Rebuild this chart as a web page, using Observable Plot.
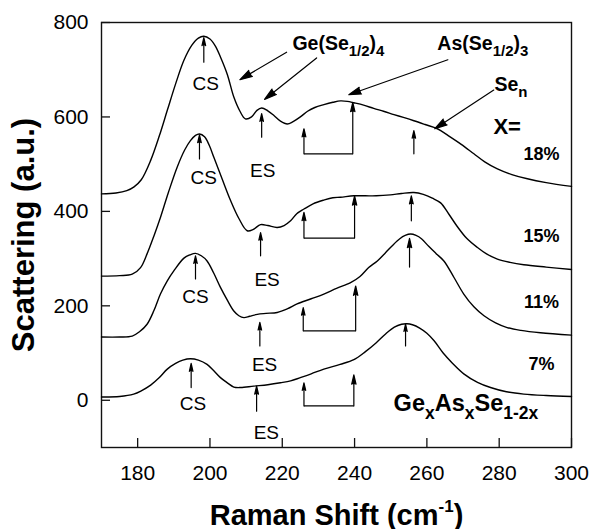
<!DOCTYPE html>
<html><head><meta charset="utf-8">
<script src="https://cdn.jsdelivr.net/npm/d3@7"></script>
<script src="https://cdn.jsdelivr.net/npm/@observablehq/plot@0.6"></script>
<style>body{margin:0;background:#fff}</style>
</head><body><div id="chart"></div>
<script>
// ---- axes ----
const xTicks = [180, 200, 220, 240, 260, 280, 300];
const yTicks = [0, 200, 400, 600, 800];
const xLabel = "Raman Shift (cm^{-1})";
const yLabel = "Scattering (a.u.)";

// ---- spectra (Raman shift, scattering) ----
const shift18 = [170,174,177,179,181,183.6,186,188.2,190.5,192.8,195,196.8,198.3,200,201.5,202.9,204.8,206.6,208.3,209.8,211.5,213,214.3,216,217.7,219.5,221.4,223,225,227,229,231.5,234,236.1,238,239.8,242.5,245.3,248,250.9,253.5,256.4,259.5,262.9,266,269.5,273,276,279.5,283.5,287.8,293,300];
const scat18  = [437,439,444,452,467,508,560,614,670,720,752,767,771,765,750,727,690,642,612,596,600,614,619,613,603,591,585,590,600,612,620,626,631,634,633,630,625,618,612,605,599,592,584,575,560,542,522,505,490,478,469,461,453];

const shift15 = [170,175,178.5,180.8,182.6,184.5,186.3,188.5,190.9,193,194.6,196,197.1,198.5,199.8,201.1,203.4,205.7,208,210.3,212,214,216,218.6,220.5,222.3,224,226,228.5,231.5,234,236.1,239.8,243,246,249.9,253,256.4,259,261.5,263.8,266,268.4,271,273.9,276.5,279.5,283,286.8,293,300];
const scat15  = [263,264,267,281,310,348,387,440,493,530,550,561,564,558,540,514,468,423,385,359,362,372,370,366,370,380,395,405,416,424,429,430,433,433,433,435,438,440,436,428,418,395,368,343,324,310,299,292,287,282,277];

const shift11 = [170,175,178.5,180.5,182.6,184.5,186.3,188.2,190,192.8,194.5,196,197.6,199.2,201,202.9,204.8,206.6,208,209.4,211,213.1,215.5,218.6,221.5,224.1,228,231.5,235,238.9,241.5,243.9,246.3,248.5,250.5,252.5,254,255.5,257,258.5,260.5,262.5,264.7,267.5,270.2,273,275.8,279,282.2,286,291.4,300];
const scat11  = [134,134,136,145,161,190,225,253,274,301,308,311,306,295,270,239,212,189,179,175,178,182,184,186,194,204,215,225,237,249,262,281,295,312,328,342,349,352,349,342,326,311,295,260,225,198,179,164,154,148,143,138];

const shift7 = [170,175,178.9,181,183.6,186,188.2,190.5,192.5,194.6,196.8,199.2,201,202.9,204.8,206.6,208.5,212.1,216,219.5,222.3,225,228,231.5,236,239.8,243,246,248.5,251,253,254.5,256,258,260,262,264.5,267,270.2,274,277.6,282,286.8,293,300];
const scat7  = [7,8,13,20,32,48,66,78,85,88,85,76,63,48,37,28,27,30,33,37,41,48,56,66,76,86,103,122,140,155,161,162,160,153,142,126,100,79,56,38,27,18,13,10,8];

const seriesNames = ["18%", "15%", "11%", "7%"];
const seriesShift = [shift18, shift15, shift11, shift7];
const seriesScat  = [scat18, scat15, scat11, scat7];

// ---- peak markers (one entry per spectrum, top to bottom) ----
const csX = [198.3, 197.1, 196.0, 194.8], csFrom = [716, 511, 257, 27], csTo = [768, 562, 306, 78];
const esX = [214.3, 214.0, 213.8, 212.9], esFrom = [557, 306, 115, -23], esTo = [607, 355, 165, 30];
const seX = [256.4, 255.7, 255.2, 254.1], seFrom = [522, 380, 282, 115], seTo = [571, 433, 343, 161];
const brLeftX = [226.0, 226.0, 225.8, 226.0], brRightX = [239.5, 240.0, 240.3, 239.8];
const brBase = [522, 343.5, 147, -12], brLeftTop = [575, 398, 196, 37], brRightTop = [631, 433, 242, 54];

// ---- peak labels ----
const csLabX = [198.8, 198.3, 196.0, 195.3], csLabY = [669, 471.5, 219.5, -8];
const esLabX = [214.6, 215.8, 215.1, 215.6], esLabY = [485.7, 255.5, 75.5, -68.7];

// ---- species labels and pointers ----
const speciesText = ["Ge(Se_{1/2})_4", "As(Se_{1/2})_3", "Se_n"];
const speciesX = [222.8, 262.9, 278.7], speciesY = [741, 741, 656];
const ptrX1 = [221.2, 229.5, 265.8, 278.5], ptrY1 = [737, 725, 721, 657];
const ptrX2 = [208.3, 215.1, 238.4, 262.2], ptrY2 = [679, 637, 647, 575];

const pctX = 291.7, pctY = [509.6, 334.3, 196.4, 63.6];
const xEqText = "X=", xEqX = 278.4, xEqY = 564;
const formulaText = "Ge_xAs_xSe_{1-2x}", formulaX = 250.8, formulaY = -22.5;

// ---- build tables ----
const lineData = seriesNames.flatMap((k, s) => seriesShift[s].map((x, i) => ({k, x, y: seriesScat[s][i]})));
const vArrows = [];
for (let i = 0; i < 4; i++) {
  vArrows.push({x: csX[i], y1: csFrom[i], y2: csTo[i]});
  vArrows.push({x: esX[i], y1: esFrom[i], y2: esTo[i]});
  vArrows.push({x: seX[i], y1: seFrom[i], y2: seTo[i]});
  vArrows.push({x: brLeftX[i], y1: brBase[i], y2: brLeftTop[i]});
  vArrows.push({x: brRightX[i], y1: brBase[i], y2: brRightTop[i]});
}
const brBars = brBase.map((b, i) => ({x1: brLeftX[i], x2: brRightX[i], y: b}));
const ptrs = ptrX1.map((x1, i) => ({x1, y1: ptrY1[i], x2: ptrX2[i], y2: ptrY2[i]}));
const csLabs = csLabX.map((x, i) => ({x, y: csLabY[i], t: "CS"}));
const esLabs = esLabX.map((x, i) => ({x, y: esLabY[i], t: "ES"}));
const species = speciesText.map((t, i) => ({t, x: speciesX[i], y: speciesY[i]}));
const pcts = seriesNames.map((t, i) => ({t, x: pctX, y: pctY[i]}));

const FONT = "Liberation Sans, Arial, Helvetica, sans-serif";
const W = 592, H = 529, ML = 101, MR = 21, MT = 22, MB = 82;

const chart = Plot.plot({
  width: W, height: H,
  marginLeft: ML, marginRight: MR, marginTop: MT, marginBottom: MB,
  style: {fontFamily: FONT, background: "#fff", color: "#000", overflow: "visible"},
  x: {domain: [170, 300]},
  y: {domain: [-100, 800]},
  marks: [
    Plot.frame({stroke: "#111", strokeWidth: 1.4}),
    Plot.tickX(xTicks, {x: d => d, insetTop: H - MT - MB - 9, stroke: "#111", strokeWidth: 1.3}),
    Plot.tickY(yTicks, {y: d => d, insetRight: W - ML - MR - 9, stroke: "#111", strokeWidth: 1.3}),
    Plot.axisX({ticks: xTicks, tickSize: 0, tickPadding: 18, fontSize: 21, label: null, tickFormat: d => String(d)}),
    Plot.axisY({ticks: yTicks, tickSize: 0, tickPadding: 13, fontSize: 21, label: null, tickFormat: d => String(d)}),
    Plot.line(lineData, {x: "x", y: "y", z: "k", curve: "catmull-rom", stroke: "#000", strokeWidth: 1.4}),
    Plot.link(brBars, {x1: "x1", x2: "x2", y1: "y", y2: "y", stroke: "#000", strokeWidth: 1.3}),
    Plot.arrow(vArrows, {x1: "x", x2: "x", y1: "y1", y2: "y2", stroke: "#000", fill: "#000", strokeWidth: 1.2, headAngle: 26, headLength: 12}),
    Plot.arrow(ptrs, {x1: "x1", y1: "y1", x2: "x2", y2: "y2", stroke: "#000", fill: "#000", strokeWidth: 1.2, headAngle: 32, headLength: 16}),
    Plot.text(csLabs, {x: "x", y: "y", text: "t", fontSize: 19, lineAnchor: "middle"}),
    Plot.text(esLabs, {x: "x", y: "y", text: "t", fontSize: 19, lineAnchor: "middle"}),
    Plot.text(species, {x: "x", y: "y", text: "t", fontSize: 19.5, fontWeight: "bold", textAnchor: "start", lineAnchor: "bottom"}),
    Plot.text([xEqText], {x: xEqX, y: xEqY, text: d => d, fontSize: 22, fontWeight: "bold", textAnchor: "start", lineAnchor: "bottom"}),
    Plot.text(pcts, {x: "x", y: "y", text: "t", fontSize: 18, fontWeight: "bold", lineAnchor: "bottom"}),
    Plot.text([formulaText], {x: formulaX, y: formulaY, text: d => d, fontSize: 23.5, fontWeight: "bold", textAnchor: "start", lineAnchor: "bottom"}),
    Plot.text([xLabel], {frameAnchor: "bottom", text: d => d, textAnchor: "middle", dy: 77, fontSize: 29, fontWeight: "bold", lineAnchor: "bottom"}),
    Plot.text([yLabel], {frameAnchor: "left", text: d => d, textAnchor: "middle", rotate: -90, dx: -68, fontSize: 31, fontWeight: "bold", lineAnchor: "bottom"})
  ]
});
document.getElementById("chart").appendChild(chart);

// rich text: _{..} subscript, ^{..} superscript
const richStyle = {
  "Ge(Se_{1/2})_4": {sub: 15, shift: 6},
  "As(Se_{1/2})_3": {sub: 15, shift: 6},
  "Se_n": {sub: 15, shift: 6},
  "Ge_xAs_xSe_{1-2x}": {sub: 17.5, shift: 8},
  "Raman Shift (cm^{-1})": {sub: 17, shift: 13}
};
const NS = "http://www.w3.org/2000/svg";
chart.querySelectorAll("text").forEach(t => {
  const src = t.textContent;
  const st = richStyle[src];
  if (!st || t.children.length) return;
  t.textContent = "";
  let off = 0;
  for (const m of src.matchAll(/([_^])\{([^}]*)\}|([_^])([^{])|([^_^]+)/g)) {
    const mode = m[1] || m[3];
    const txt = m[2] !== undefined ? m[2] : (m[4] !== undefined ? m[4] : m[5]);
    const ts = document.createElementNS(NS, "tspan");
    let target = 0;
    if (mode === "_") { target = st.shift; ts.setAttribute("font-size", st.sub); }
    else if (mode === "^") { target = -st.shift; ts.setAttribute("font-size", st.sub); }
    if (target !== off) ts.setAttribute("dy", target - off);
    off = target;
    ts.textContent = txt;
    t.appendChild(ts);
  }
});
</script>
</body></html>
